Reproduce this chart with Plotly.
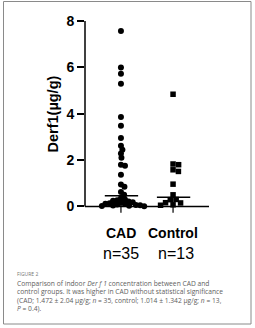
import math
import plotly.graph_objects as go

# ---- data ----
groups = ["CAD", "Control"]
n_labels = ["n=35", "n=13"]
cad_values = [7.57, 5.99, 5.72, 5.29, 3.86, 3.48, 2.95, 2.62, 2.45, 2.28, 2.10,
              1.80, 1.75, 1.37, 0.95, 0.85, 0.62, 0.50,
              0.35, 0.30, 0.27, 0.24, 0.21, 0.18, 0.16, 0.14, 0.12, 0.10,
              0.08, 0.06, 0.05, 0.04, 0.03, 0.02, 0.01]
control_values = [4.84, 1.83, 1.80, 1.58, 1.51, 0.96, 0.50, 0.30, 0.29,
                  0.16, 0.15, 0.07, 0.05]
medians = [0.46, 0.40]
whisker_low = [-0.27, -0.27]
y_ticks = [0, 2, 4, 6, 8]
y_title = "Derf1(µg/g)"
caption_head = "FIGURE 2"
caption_lines = [
    "Comparison of indoor <i>Der f 1</i> concentration between CAD and",
    "control groups. It was higher in CAD without statistical significance",
    "(CAD; 1.472 ± 2.04 µg/g; <i>n</i> = 35, control; 1.014 ± 1.342 µg/g; <i>n</i> = 13,",
    "<i>P</i> = 0.4).",
]

# ---- geometry ----
W, H = 255, 328
ML, MR, MT, MB = 85, 46, 21, 110
PW, PH = W - ML - MR, H - MT - MB
XR = [0.31, 2.69]
YR = [-0.5, 8.0]
xs = PW / (XR[1] - XR[0])
ys = PH / (YR[1] - YR[0])


def px2x(px):
    return (px - ML) / PW


def px2y(py):
    return (H - MB - py) / PH


def beeswarm(values, center, diam):
    placed = []
    order = sorted(range(len(values)), key=lambda i: -values[i])
    res = [0.0] * len(values)
    for i in order:
        yp = values[i] * ys
        cands = [0.0]
        for (xj, yj) in placed:
            dy = abs(yp - yj)
            if dy < diam:
                dx = math.sqrt(diam * diam - dy * dy)
                cands += [xj + dx, xj - dx]
        cands.sort(key=abs)
        for c in cands:
            ok = all((c - xj) ** 2 + (yp - yj) ** 2 >= diam * diam - 1e-6 for xj, yj in placed)
            if ok:
                placed.append((c, yp))
                res[i] = center + c / xs
                break
    return res


fig = go.Figure()
series = [cad_values, control_values]
symbols = ["circle", "square"]
sizes = [6, 5.5]
swarm_d = [4.2, 5.6]
for k, vals in enumerate(series):
    xpos = beeswarm(vals, k + 1, swarm_d[k])
    fig.add_trace(go.Scatter(x=xpos, y=vals, mode="markers",
                             marker=dict(symbol=symbols[k], size=sizes[k], color="black",
                                         line=dict(width=0)),
                             showlegend=False, hoverinfo="skip", cliponaxis=False))

shapes = []
shapes.append(dict(type="line", xref="paper", yref="y", x0=0, x1=0, y0=0, y1=8,
                   line=dict(color="black", width=1.5)))
shapes.append(dict(type="line", xref="paper", yref="y", x0=0, x1=1, y0=0, y1=0,
                   line=dict(color="black", width=1.5)))
for k in range(2):
    c = k + 1
    shapes.append(dict(type="line", xref="x", yref="y", x0=c - 0.31, x1=c + 0.33,
                       y0=medians[k], y1=medians[k], line=dict(color="black", width=1.5)))
    shapes.append(dict(type="line", xref="x", yref="y", x0=c, x1=c,
                       y0=whisker_low[k], y1=medians[k], line=dict(color="black", width=1.2)))
shapes.append(dict(type="rect", xref="paper", yref="paper",
                   x0=px2x(3.5), x1=px2x(251), y0=px2y(324), y1=px2y(1.5),
                   line=dict(color="#8a8a8a", width=1), layer="below"))

ann = []
for k, g in enumerate(groups):
    ann.append(dict(x=k + 1, xref="x", y=px2y(233), yref="paper", text="<b>%s</b>" % g,
                    showarrow=False, xanchor="center", yanchor="middle",
                    font=dict(family="Liberation Sans", size=14, color="black")))
    ann.append(dict(x=k + 1 + (0.05 if k == 1 else 0), xref="x", y=px2y(253), yref="paper",
                    text=n_labels[k], showarrow=False, xanchor="center", yanchor="middle",
                    font=dict(family="Liberation Sans", size=16, color="black")))
ann.append(dict(x=px2x(52.5), xref="paper", y=px2y(114), yref="paper",
                text="<b>%s</b>" % y_title, textangle=-90, showarrow=False,
                xanchor="center", yanchor="middle",
                font=dict(family="Liberation Sans", size=14.5, color="black")))
ann.append(dict(x=px2x(15), xref="paper", y=px2y(274), yref="paper", text=caption_head,
                showarrow=False, xanchor="left", yanchor="middle",
                font=dict(family="Open Sans", size=5, color="#777777")))
cap_y = [283, 291.5, 300, 308.5]
for t, py in zip(caption_lines, cap_y):
    ann.append(dict(x=px2x(15), xref="paper", y=px2y(py), yref="paper", text=t,
                    showarrow=False, xanchor="left", yanchor="middle",
                    font=dict(family="Open Sans", size=6.7, color="#5e5e5e")))

fig.update_layout(
    width=W, height=H, margin=dict(l=ML, r=MR, t=MT, b=MB, pad=0),
    paper_bgcolor="white", plot_bgcolor="white",
    xaxis=dict(range=XR, showgrid=False, zeroline=False, showline=False,
               showticklabels=False, ticks=""),
    yaxis=dict(range=YR, showgrid=False, zeroline=False, showline=False,
               tickvals=y_ticks, ticktext=["<b>%d</b>" % v for v in y_ticks],
               ticks="outside", ticklen=7, tickwidth=1.5, tickcolor="black",
               tickfont=dict(family="Liberation Sans", size=14, color="black")),
    shapes=shapes, annotations=ann, showlegend=False,
)
fig.write_html("out.html")
